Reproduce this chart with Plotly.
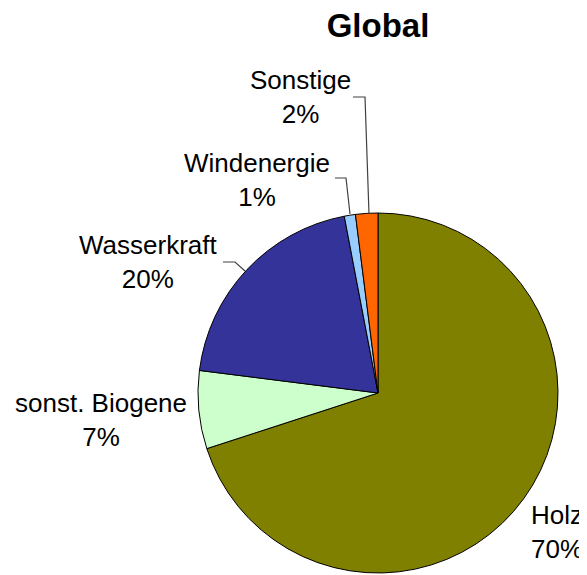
import plotly.graph_objects as go

# Data
categories = ["Holz", "sonst. Biogene", "Wasserkraft", "Windenergie", "Sonstige"]
values = [70, 7, 20, 1, 2]
colors = ["#808000", "#CCFFCC", "#333399", "#99CCFF", "#FF6600"]

OFF = 8  # default page body margin
W, H = 587 - OFF, 575 - OFF
def px(x):
    return (x - OFF) / W
def py(y):
    return 1 - (y - OFF) / H

cx, cy, r = 378, 393, 180

fig = go.Figure(go.Pie(
    labels=categories,
    values=values,
    sort=False,
    direction="clockwise",
    rotation=0,
    marker=dict(colors=colors, line=dict(color="black", width=1)),
    textinfo="none",
    hoverinfo="label+percent",
    showlegend=False,
    domain=dict(x=[px(cx - r), px(cx + r)], y=[py(cy + r), py(cy - r)]),
))

total = sum(values)
label_pos = {
    "Holz": (557, 532),
    "sonst. Biogene": (101, 420),
    "Wasserkraft": (148, 262),
    "Windenergie": (257, 180),
    "Sonstige": (300, 97),
}
font = dict(family="Liberation Sans, Arial, sans-serif", size=26, color="black")
for cat, v in zip(categories, values):
    x, y = label_pos[cat]
    fig.add_annotation(
        x=px(x), y=py(y), xref="paper", yref="paper",
        text=f"{cat}<br>{round(100 * v / total)}%",
        showarrow=False, font=font, align="center",
        xanchor="center", yanchor="middle",
    )

# leader lines
leaders = [
    [(353, 97), (365, 97), (369, 214)],
    [(335, 178), (346, 178), (350, 214)],
    [(223, 262), (235, 262), (245, 271)],
]
for pts in leaders:
    path = "M " + " L ".join(f"{px(x)} {py(y)}" for x, y in pts)
    fig.add_shape(type="path", path=path, xref="paper", yref="paper",
                  line=dict(color="#404040", width=1.2))

fig.update_layout(
    title=dict(
        text="<b>Global</b>",
        x=px(378), xanchor="center",
        y=py(37), yanchor="bottom", yref="container",
        font=dict(family="Liberation Sans, Arial, sans-serif", size=33, color="black"),
    ),
    width=W, height=H,
    margin=dict(l=0, r=0, t=0, b=0),
    paper_bgcolor="white", plot_bgcolor="white",
)
fig.write_html("out.html")
